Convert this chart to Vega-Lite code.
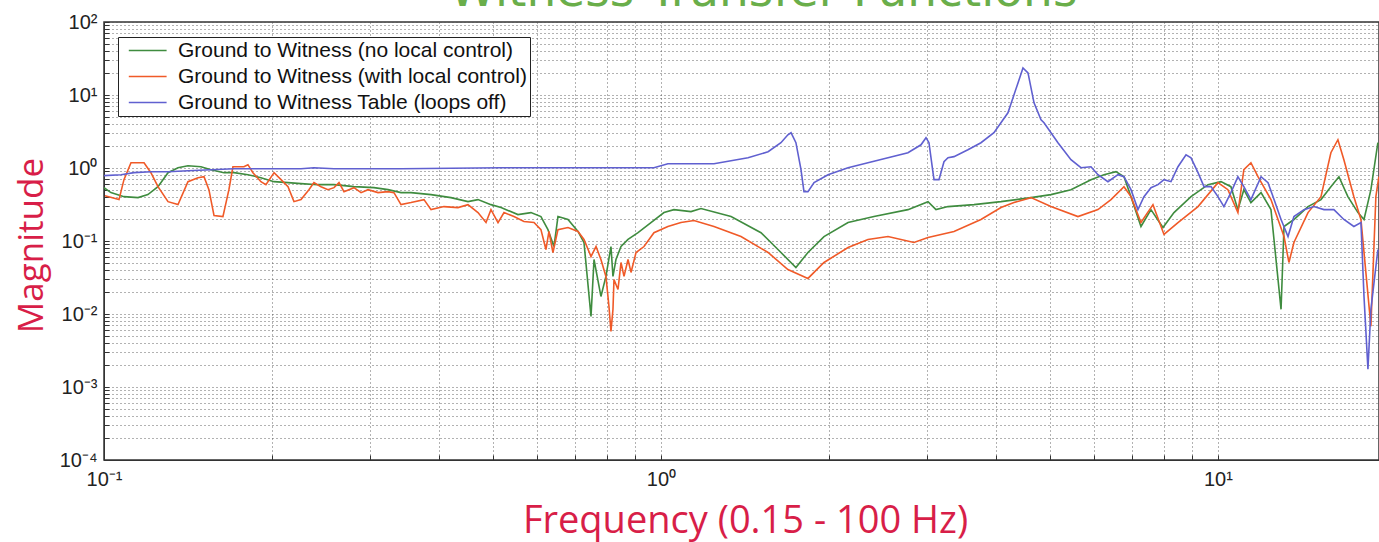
{
  "$schema": "https://vega.github.io/schema/vega-lite/v6.json",
  "width": 1275,
  "height": 438,
  "autosize": {"type": "none"},
  "padding": {"left": 104, "top": 22, "right": 0, "bottom": 82},
  "background": "white",
  "config": {
    "view": {"stroke": "#333", "strokeWidth": 1.5},
    "axis": {
      "labelFont": "Liberation Sans",
      "labelFontSize": 20,
      "labelColor": "#222",
      "domainColor": "#333",
      "tickColor": "#333",
      "gridColor": "#555",
      "gridDash": [1, 3],
      "gridWidth": 1,
      "gridOpacity": 0.9,
      "titleFont": "Open Sans",
      "titleFontSize": 38,
      "titleFontWeight": "normal",
      "titleColor": "#d81e48"
    }
  },
  "datasets": {
    "curves": [
      {"series": "Ground to Witness (no local control)", "f": 0.1000, "m": 0.538},
      {"series": "Ground to Witness (no local control)", "f": 0.1029, "m": 0.460},
      {"series": "Ground to Witness (no local control)", "f": 0.1086, "m": 0.405},
      {"series": "Ground to Witness (no local control)", "f": 0.1151, "m": 0.393},
      {"series": "Ground to Witness (no local control)", "f": 0.1199, "m": 0.432},
      {"series": "Ground to Witness (no local control)", "f": 0.1250, "m": 0.555},
      {"series": "Ground to Witness (no local control)", "f": 0.1303, "m": 0.863},
      {"series": "Ground to Witness (no local control)", "f": 0.1358, "m": 1.01},
      {"series": "Ground to Witness (no local control)", "f": 0.1415, "m": 1.075},
      {"series": "Ground to Witness (no local control)", "f": 0.1493, "m": 1.04},
      {"series": "Ground to Witness (no local control)", "f": 0.1556, "m": 0.948},
      {"series": "Ground to Witness (no local control)", "f": 0.1642, "m": 0.863},
      {"series": "Ground to Witness (no local control)", "f": 0.1712, "m": 0.863},
      {"series": "Ground to Witness (no local control)", "f": 0.1813, "m": 0.810},
      {"series": "Ground to Witness (no local control)", "f": 0.1913, "m": 0.737},
      {"series": "Ground to Witness (no local control)", "f": 0.2020, "m": 0.650},
      {"series": "Ground to Witness (no local control)", "f": 0.2140, "m": 0.630},
      {"series": "Ground to Witness (no local control)", "f": 0.2258, "m": 0.610},
      {"series": "Ground to Witness (no local control)", "f": 0.2422, "m": 0.591},
      {"series": "Ground to Witness (no local control)", "f": 0.2588, "m": 0.591},
      {"series": "Ground to Witness (no local control)", "f": 0.2811, "m": 0.555},
      {"series": "Ground to Witness (no local control)", "f": 0.3053, "m": 0.538},
      {"series": "Ground to Witness (no local control)", "f": 0.3235, "m": 0.505},
      {"series": "Ground to Witness (no local control)", "f": 0.3414, "m": 0.460},
      {"series": "Ground to Witness (no local control)", "f": 0.3558, "m": 0.460},
      {"series": "Ground to Witness (no local control)", "f": 0.3865, "m": 0.432},
      {"series": "Ground to Witness (no local control)", "f": 0.4197, "m": 0.393},
      {"series": "Ground to Witness (no local control)", "f": 0.4503, "m": 0.346},
      {"series": "Ground to Witness (no local control)", "f": 0.4693, "m": 0.369},
      {"series": "Ground to Witness (no local control)", "f": 0.4952, "m": 0.315},
      {"series": "Ground to Witness (no local control)", "f": 0.5162, "m": 0.287},
      {"series": "Ground to Witness (no local control)", "f": 0.5536, "m": 0.230},
      {"series": "Ground to Witness (no local control)", "f": 0.5842, "m": 0.245},
      {"series": "Ground to Witness (no local control)", "f": 0.6088, "m": 0.216},
      {"series": "Ground to Witness (no local control)", "f": 0.6267, "m": 0.143},
      {"series": "Ground to Witness (no local control)", "f": 0.6425, "m": 0.0840},
      {"series": "Ground to Witness (no local control)", "f": 0.6532, "m": 0.216},
      {"series": "Ground to Witness (no local control)", "f": 0.6808, "m": 0.197},
      {"series": "Ground to Witness (no local control)", "f": 0.7096, "m": 0.135},
      {"series": "Ground to Witness (no local control)", "f": 0.7274, "m": 0.0953},
      {"series": "Ground to Witness (no local control)", "f": 0.7488, "m": 0.00929},
      {"series": "Ground to Witness (no local control)", "f": 0.7582, "m": 0.0558},
      {"series": "Ground to Witness (no local control)", "f": 0.7802, "m": 0.0174},
      {"series": "Ground to Witness (no local control)", "f": 0.7965, "m": 0.0327},
      {"series": "Ground to Witness (no local control)", "f": 0.8132, "m": 0.0840},
      {"series": "Ground to Witness (no local control)", "f": 0.8200, "m": 0.0327},
      {"series": "Ground to Witness (no local control)", "f": 0.8302, "m": 0.0558},
      {"series": "Ground to Witness (no local control)", "f": 0.8477, "m": 0.0840},
      {"series": "Ground to Witness (no local control)", "f": 0.8726, "m": 0.105},
      {"series": "Ground to Witness (no local control)", "f": 0.9095, "m": 0.130},
      {"series": "Ground to Witness (no local control)", "f": 0.9594, "m": 0.179},
      {"series": "Ground to Witness (no local control)", "f": 1.0125, "m": 0.245},
      {"series": "Ground to Witness (no local control)", "f": 1.055, "m": 0.269},
      {"series": "Ground to Witness (no local control)", "f": 1.132, "m": 0.253},
      {"series": "Ground to Witness (no local control)", "f": 1.180, "m": 0.278},
      {"series": "Ground to Witness (no local control)", "f": 1.336, "m": 0.216},
      {"series": "Ground to Witness (no local control)", "f": 1.512, "m": 0.130},
      {"series": "Ground to Witness (no local control)", "f": 1.622, "m": 0.0764},
      {"series": "Ground to Witness (no local control)", "f": 1.747, "m": 0.0434},
      {"series": "Ground to Witness (no local control)", "f": 1.836, "m": 0.0696},
      {"series": "Ground to Witness (no local control)", "f": 1.962, "m": 0.115},
      {"series": "Ground to Witness (no local control)", "f": 2.167, "m": 0.179},
      {"series": "Ground to Witness (no local control)", "f": 2.412, "m": 0.216},
      {"series": "Ground to Witness (no local control)", "f": 2.776, "m": 0.269},
      {"series": "Ground to Witness (no local control)", "f": 3.016, "m": 0.346},
      {"series": "Ground to Witness (no local control)", "f": 3.117, "m": 0.269},
      {"series": "Ground to Witness (no local control)", "f": 3.276, "m": 0.296},
      {"series": "Ground to Witness (no local control)", "f": 3.647, "m": 0.315},
      {"series": "Ground to Witness (no local control)", "f": 4.078, "m": 0.346},
      {"series": "Ground to Witness (no local control)", "f": 4.617, "m": 0.393},
      {"series": "Ground to Witness (no local control)", "f": 5.013, "m": 0.432},
      {"series": "Ground to Witness (no local control)", "f": 5.446, "m": 0.505},
      {"series": "Ground to Witness (no local control)", "f": 5.916, "m": 0.692},
      {"series": "Ground to Witness (no local control)", "f": 6.242, "m": 0.810},
      {"series": "Ground to Witness (no local control)", "f": 6.560, "m": 0.890},
      {"series": "Ground to Witness (no local control)", "f": 6.781, "m": 0.760},
      {"series": "Ground to Witness (no local control)", "f": 6.980, "m": 0.405},
      {"series": "Ground to Witness (no local control)", "f": 7.274, "m": 0.158},
      {"series": "Ground to Witness (no local control)", "f": 7.581, "m": 0.269},
      {"series": "Ground to Witness (no local control)", "f": 7.967, "m": 0.153},
      {"series": "Ground to Witness (no local control)", "f": 8.338, "m": 0.245},
      {"series": "Ground to Witness (no local control)", "f": 8.946, "m": 0.405},
      {"series": "Ground to Witness (no local control)", "f": 9.597, "m": 0.591},
      {"series": "Ground to Witness (no local control)", "f": 10.125, "m": 0.650},
      {"series": "Ground to Witness (no local control)", "f": 10.55, "m": 0.555},
      {"series": "Ground to Witness (no local control)", "f": 10.86, "m": 0.269},
      {"series": "Ground to Witness (no local control)", "f": 11.13, "m": 0.505},
      {"series": "Ground to Witness (no local control)", "f": 11.46, "m": 0.336},
      {"series": "Ground to Witness (no local control)", "f": 11.95, "m": 0.460},
      {"series": "Ground to Witness (no local control)", "f": 12.45, "m": 0.269},
      {"series": "Ground to Witness (no local control)", "f": 12.98, "m": 0.0116},
      {"series": "Ground to Witness (no local control)", "f": 13.14, "m": 0.158},
      {"series": "Ground to Witness (no local control)", "f": 13.69, "m": 0.197},
      {"series": "Ground to Witness (no local control)", "f": 14.51, "m": 0.296},
      {"series": "Ground to Witness (no local control)", "f": 15.31, "m": 0.369},
      {"series": "Ground to Witness (no local control)", "f": 15.95, "m": 0.555},
      {"series": "Ground to Witness (no local control)", "f": 16.49, "m": 0.760},
      {"series": "Ground to Witness (no local control)", "f": 17.11, "m": 0.405},
      {"series": "Ground to Witness (no local control)", "f": 17.84, "m": 0.245},
      {"series": "Ground to Witness (no local control)", "f": 18.29, "m": 0.197},
      {"series": "Ground to Witness (no local control)", "f": 18.82, "m": 0.505},
      {"series": "Ground to Witness (no local control)", "f": 19.37, "m": 2.22},

      {"series": "Ground to Witness (with local control)", "f": 0.1004, "m": 0.418},
      {"series": "Ground to Witness (with local control)", "f": 0.1064, "m": 0.369},
      {"series": "Ground to Witness (with local control)", "f": 0.1086, "m": 0.692},
      {"series": "Ground to Witness (with local control)", "f": 0.1118, "m": 1.18},
      {"series": "Ground to Witness (with local control)", "f": 0.1180, "m": 1.18},
      {"series": "Ground to Witness (with local control)", "f": 0.1214, "m": 0.863},
      {"series": "Ground to Witness (with local control)", "f": 0.1250, "m": 0.555},
      {"series": "Ground to Witness (with local control)", "f": 0.1303, "m": 0.346},
      {"series": "Ground to Witness (with local control)", "f": 0.1358, "m": 0.315},
      {"series": "Ground to Witness (with local control)", "f": 0.1415, "m": 0.650},
      {"series": "Ground to Witness (with local control)", "f": 0.1475, "m": 0.737},
      {"series": "Ground to Witness (with local control)", "f": 0.1512, "m": 0.760},
      {"series": "Ground to Witness (with local control)", "f": 0.1543, "m": 0.505},
      {"series": "Ground to Witness (with local control)", "f": 0.1576, "m": 0.223},
      {"series": "Ground to Witness (with local control)", "f": 0.1635, "m": 0.216},
      {"series": "Ground to Witness (with local control)", "f": 0.1676, "m": 0.505},
      {"series": "Ground to Witness (with local control)", "f": 0.1704, "m": 1.04},
      {"series": "Ground to Witness (with local control)", "f": 0.1783, "m": 1.04},
      {"series": "Ground to Witness (with local control)", "f": 0.1813, "m": 1.11},
      {"series": "Ground to Witness (with local control)", "f": 0.1851, "m": 0.863},
      {"series": "Ground to Witness (with local control)", "f": 0.1913, "m": 0.650},
      {"series": "Ground to Witness (with local control)", "f": 0.1953, "m": 0.591},
      {"series": "Ground to Witness (with local control)", "f": 0.2020, "m": 0.863},
      {"series": "Ground to Witness (with local control)", "f": 0.2079, "m": 0.692},
      {"series": "Ground to Witness (with local control)", "f": 0.2140, "m": 0.555},
      {"series": "Ground to Witness (with local control)", "f": 0.2193, "m": 0.346},
      {"series": "Ground to Witness (with local control)", "f": 0.2258, "m": 0.369},
      {"series": "Ground to Witness (with local control)", "f": 0.2333, "m": 0.505},
      {"series": "Ground to Witness (with local control)", "f": 0.2382, "m": 0.630},
      {"series": "Ground to Witness (with local control)", "f": 0.2452, "m": 0.555},
      {"series": "Ground to Witness (with local control)", "f": 0.2524, "m": 0.505},
      {"series": "Ground to Witness (with local control)", "f": 0.2588, "m": 0.538},
      {"series": "Ground to Witness (with local control)", "f": 0.2642, "m": 0.630},
      {"series": "Ground to Witness (with local control)", "f": 0.2697, "m": 0.474},
      {"series": "Ground to Witness (with local control)", "f": 0.2811, "m": 0.538},
      {"series": "Ground to Witness (with local control)", "f": 0.2894, "m": 0.460},
      {"series": "Ground to Witness (with local control)", "f": 0.2979, "m": 0.505},
      {"series": "Ground to Witness (with local control)", "f": 0.3104, "m": 0.460},
      {"series": "Ground to Witness (with local control)", "f": 0.3235, "m": 0.474},
      {"series": "Ground to Witness (with local control)", "f": 0.3316, "m": 0.460},
      {"series": "Ground to Witness (with local control)", "f": 0.3414, "m": 0.315},
      {"series": "Ground to Witness (with local control)", "f": 0.3558, "m": 0.336},
      {"series": "Ground to Witness (with local control)", "f": 0.3754, "m": 0.369},
      {"series": "Ground to Witness (with local control)", "f": 0.3865, "m": 0.269},
      {"series": "Ground to Witness (with local control)", "f": 0.4077, "m": 0.296},
      {"series": "Ground to Witness (with local control)", "f": 0.4320, "m": 0.287},
      {"series": "Ground to Witness (with local control)", "f": 0.4503, "m": 0.315},
      {"series": "Ground to Witness (with local control)", "f": 0.4693, "m": 0.245},
      {"series": "Ground to Witness (with local control)", "f": 0.4851, "m": 0.179},
      {"series": "Ground to Witness (with local control)", "f": 0.4952, "m": 0.269},
      {"series": "Ground to Witness (with local control)", "f": 0.5098, "m": 0.179},
      {"series": "Ground to Witness (with local control)", "f": 0.5226, "m": 0.245},
      {"series": "Ground to Witness (with local control)", "f": 0.5445, "m": 0.216},
      {"series": "Ground to Witness (with local control)", "f": 0.5675, "m": 0.185},
      {"series": "Ground to Witness (with local control)", "f": 0.5916, "m": 0.179},
      {"series": "Ground to Witness (with local control)", "f": 0.6088, "m": 0.143},
      {"series": "Ground to Witness (with local control)", "f": 0.6215, "m": 0.0764},
      {"series": "Ground to Witness (with local control)", "f": 0.6293, "m": 0.135},
      {"series": "Ground to Witness (with local control)", "f": 0.6398, "m": 0.0696},
      {"series": "Ground to Witness (with local control)", "f": 0.6532, "m": 0.143},
      {"series": "Ground to Witness (with local control)", "f": 0.6808, "m": 0.153},
      {"series": "Ground to Witness (with local control)", "f": 0.7096, "m": 0.135},
      {"series": "Ground to Witness (with local control)", "f": 0.7274, "m": 0.105},
      {"series": "Ground to Witness (with local control)", "f": 0.7488, "m": 0.0613},
      {"series": "Ground to Witness (with local control)", "f": 0.7645, "m": 0.0840},
      {"series": "Ground to Witness (with local control)", "f": 0.7802, "m": 0.0558},
      {"series": "Ground to Witness (with local control)", "f": 0.7965, "m": 0.0327},
      {"series": "Ground to Witness (with local control)", "f": 0.8065, "m": 0.0127},
      {"series": "Ground to Witness (with local control)", "f": 0.8132, "m": 0.00579},
      {"series": "Ground to Witness (with local control)", "f": 0.8200, "m": 0.0116},
      {"series": "Ground to Witness (with local control)", "f": 0.8234, "m": 0.0297},
      {"series": "Ground to Witness (with local control)", "f": 0.8372, "m": 0.0217},
      {"series": "Ground to Witness (with local control)", "f": 0.8477, "m": 0.0508},
      {"series": "Ground to Witness (with local control)", "f": 0.8583, "m": 0.0327},
      {"series": "Ground to Witness (with local control)", "f": 0.8726, "m": 0.0558},
      {"series": "Ground to Witness (with local control)", "f": 0.8835, "m": 0.0371},
      {"series": "Ground to Witness (with local control)", "f": 0.9020, "m": 0.0696},
      {"series": "Ground to Witness (with local control)", "f": 0.9322, "m": 0.0840},
      {"series": "Ground to Witness (with local control)", "f": 0.9714, "m": 0.130},
      {"series": "Ground to Witness (with local control)", "f": 1.029, "m": 0.158},
      {"series": "Ground to Witness (with local control)", "f": 1.086, "m": 0.179},
      {"series": "Ground to Witness (with local control)", "f": 1.146, "m": 0.191},
      {"series": "Ground to Witness (with local control)", "f": 1.245, "m": 0.158},
      {"series": "Ground to Witness (with local control)", "f": 1.392, "m": 0.115},
      {"series": "Ground to Witness (with local control)", "f": 1.557, "m": 0.0696},
      {"series": "Ground to Witness (with local control)", "f": 1.690, "m": 0.0407},
      {"series": "Ground to Witness (with local control)", "f": 1.836, "m": 0.0307},
      {"series": "Ground to Witness (with local control)", "f": 1.962, "m": 0.0508},
      {"series": "Ground to Witness (with local control)", "f": 2.167, "m": 0.0814},
      {"series": "Ground to Witness (with local control)", "f": 2.353, "m": 0.105},
      {"series": "Ground to Witness (with local control)", "f": 2.556, "m": 0.115},
      {"series": "Ground to Witness (with local control)", "f": 2.846, "m": 0.0953},
      {"series": "Ground to Witness (with local control)", "f": 3.016, "m": 0.112},
      {"series": "Ground to Witness (with local control)", "f": 3.358, "m": 0.135},
      {"series": "Ground to Witness (with local control)", "f": 3.754, "m": 0.197},
      {"series": "Ground to Witness (with local control)", "f": 4.078, "m": 0.287},
      {"series": "Ground to Witness (with local control)", "f": 4.303, "m": 0.336},
      {"series": "Ground to Witness (with local control)", "f": 4.617, "m": 0.393},
      {"series": "Ground to Witness (with local control)", "f": 5.013, "m": 0.296},
      {"series": "Ground to Witness (with local control)", "f": 5.606, "m": 0.216},
      {"series": "Ground to Witness (with local control)", "f": 6.089, "m": 0.269},
      {"series": "Ground to Witness (with local control)", "f": 6.426, "m": 0.369},
      {"series": "Ground to Witness (with local control)", "f": 6.781, "m": 0.555},
      {"series": "Ground to Witness (with local control)", "f": 6.980, "m": 0.405},
      {"series": "Ground to Witness (with local control)", "f": 7.274, "m": 0.179},
      {"series": "Ground to Witness (with local control)", "f": 7.644, "m": 0.315},
      {"series": "Ground to Witness (with local control)", "f": 8.000, "m": 0.123},
      {"series": "Ground to Witness (with local control)", "f": 8.477, "m": 0.179},
      {"series": "Ground to Witness (with local control)", "f": 9.209, "m": 0.296},
      {"series": "Ground to Witness (with local control)", "f": 10.00, "m": 0.630},
      {"series": "Ground to Witness (with local control)", "f": 10.42, "m": 0.505},
      {"series": "Ground to Witness (with local control)", "f": 10.86, "m": 0.245},
      {"series": "Ground to Witness (with local control)", "f": 11.13, "m": 0.948},
      {"series": "Ground to Witness (with local control)", "f": 11.46, "m": 1.18},
      {"series": "Ground to Witness (with local control)", "f": 11.80, "m": 0.760},
      {"series": "Ground to Witness (with local control)", "f": 12.45, "m": 0.369},
      {"series": "Ground to Witness (with local control)", "f": 13.14, "m": 0.115},
      {"series": "Ground to Witness (with local control)", "f": 13.41, "m": 0.0508},
      {"series": "Ground to Witness (with local control)", "f": 13.69, "m": 0.0953},
      {"series": "Ground to Witness (with local control)", "f": 14.51, "m": 0.245},
      {"series": "Ground to Witness (with local control)", "f": 15.31, "m": 0.405},
      {"series": "Ground to Witness (with local control)", "f": 15.95, "m": 1.62},
      {"series": "Ground to Witness (with local control)", "f": 16.42, "m": 2.44},
      {"series": "Ground to Witness (with local control)", "f": 16.83, "m": 1.30},
      {"series": "Ground to Witness (with local control)", "f": 17.54, "m": 0.405},
      {"series": "Ground to Witness (with local control)", "f": 18.06, "m": 0.197},
      {"series": "Ground to Witness (with local control)", "f": 18.82, "m": 0.00678},
      {"series": "Ground to Witness (with local control)", "f": 19.21, "m": 0.405},
      {"series": "Ground to Witness (with local control)", "f": 19.45, "m": 0.760},

      {"series": "Ground to Witness Table (loops off)", "f": 0.1000, "m": 0.785},
      {"series": "Ground to Witness Table (loops off)", "f": 0.1073, "m": 0.810},
      {"series": "Ground to Witness Table (loops off)", "f": 0.1132, "m": 0.863},
      {"series": "Ground to Witness Table (loops off)", "f": 0.1214, "m": 0.890},
      {"series": "Ground to Witness Table (loops off)", "f": 0.1303, "m": 0.890},
      {"series": "Ground to Witness Table (loops off)", "f": 0.1415, "m": 0.919},
      {"series": "Ground to Witness Table (loops off)", "f": 0.1556, "m": 0.948},
      {"series": "Ground to Witness Table (loops off)", "f": 0.1712, "m": 0.978},
      {"series": "Ground to Witness Table (loops off)", "f": 0.1970, "m": 0.978},
      {"series": "Ground to Witness Table (loops off)", "f": 0.2258, "m": 0.978},
      {"series": "Ground to Witness Table (loops off)", "f": 0.2382, "m": 1.01},
      {"series": "Ground to Witness Table (loops off)", "f": 0.2588, "m": 0.978},
      {"series": "Ground to Witness Table (loops off)", "f": 0.3414, "m": 0.978},
      {"series": "Ground to Witness Table (loops off)", "f": 0.5162, "m": 1.01},
      {"series": "Ground to Witness Table (loops off)", "f": 0.7802, "m": 1.01},
      {"series": "Ground to Witness Table (loops off)", "f": 0.9714, "m": 1.01},
      {"series": "Ground to Witness Table (loops off)", "f": 1.029, "m": 1.145},
      {"series": "Ground to Witness Table (loops off)", "f": 1.086, "m": 1.145},
      {"series": "Ground to Witness Table (loops off)", "f": 1.245, "m": 1.145},
      {"series": "Ground to Witness Table (loops off)", "f": 1.433, "m": 1.38},
      {"series": "Ground to Witness Table (loops off)", "f": 1.557, "m": 1.67},
      {"series": "Ground to Witness Table (loops off)", "f": 1.642, "m": 2.22},
      {"series": "Ground to Witness Table (loops off)", "f": 1.690, "m": 2.85},
      {"series": "Ground to Witness Table (loops off)", "f": 1.712, "m": 3.04},
      {"series": "Ground to Witness Table (loops off)", "f": 1.747, "m": 2.22},
      {"series": "Ground to Witness Table (loops off)", "f": 1.784, "m": 0.948},
      {"series": "Ground to Witness Table (loops off)", "f": 1.806, "m": 0.474},
      {"series": "Ground to Witness Table (loops off)", "f": 1.836, "m": 0.474},
      {"series": "Ground to Witness Table (loops off)", "f": 1.883, "m": 0.630},
      {"series": "Ground to Witness Table (loops off)", "f": 1.995, "m": 0.810},
      {"series": "Ground to Witness Table (loops off)", "f": 2.167, "m": 1.01},
      {"series": "Ground to Witness Table (loops off)", "f": 2.353, "m": 1.18},
      {"series": "Ground to Witness Table (loops off)", "f": 2.556, "m": 1.38},
      {"series": "Ground to Witness Table (loops off)", "f": 2.776, "m": 1.62},
      {"series": "Ground to Witness Table (loops off)", "f": 2.930, "m": 2.08},
      {"series": "Ground to Witness Table (loops off)", "f": 2.991, "m": 2.60},
      {"series": "Ground to Witness Table (loops off)", "f": 3.028, "m": 2.22},
      {"series": "Ground to Witness Table (loops off)", "f": 3.079, "m": 0.863},
      {"series": "Ground to Witness Table (loops off)", "f": 3.092, "m": 0.692},
      {"series": "Ground to Witness Table (loops off)", "f": 3.156, "m": 0.692},
      {"series": "Ground to Witness Table (loops off)", "f": 3.222, "m": 1.22},
      {"series": "Ground to Witness Table (loops off)", "f": 3.276, "m": 1.38},
      {"series": "Ground to Witness Table (loops off)", "f": 3.358, "m": 1.43},
      {"series": "Ground to Witness Table (loops off)", "f": 3.557, "m": 1.78},
      {"series": "Ground to Witness Table (loops off)", "f": 3.754, "m": 2.22},
      {"series": "Ground to Witness Table (loops off)", "f": 3.961, "m": 3.04},
      {"series": "Ground to Witness Table (loops off)", "f": 4.197, "m": 5.70},
      {"series": "Ground to Witness Table (loops off)", "f": 4.375, "m": 14.65},
      {"series": "Ground to Witness Table (loops off)", "f": 4.466, "m": 23.5},
      {"series": "Ground to Witness Table (loops off)", "f": 4.560, "m": 20.1},
      {"series": "Ground to Witness Table (loops off)", "f": 4.675, "m": 7.81},
      {"series": "Ground to Witness Table (loops off)", "f": 4.812, "m": 4.57},
      {"series": "Ground to Witness Table (loops off)", "f": 4.872, "m": 4.16},
      {"series": "Ground to Witness Table (loops off)", "f": 5.161, "m": 2.22},
      {"series": "Ground to Witness Table (loops off)", "f": 5.446, "m": 1.30},
      {"series": "Ground to Witness Table (loops off)", "f": 5.676, "m": 1.01},
      {"series": "Ground to Witness Table (loops off)", "f": 5.916, "m": 1.04},
      {"series": "Ground to Witness Table (loops off)", "f": 6.089, "m": 0.810},
      {"series": "Ground to Witness Table (loops off)", "f": 6.346, "m": 0.650},
      {"series": "Ground to Witness Table (loops off)", "f": 6.614, "m": 0.810},
      {"series": "Ground to Witness Table (loops off)", "f": 6.781, "m": 0.760},
      {"series": "Ground to Witness Table (loops off)", "f": 6.980, "m": 0.505},
      {"series": "Ground to Witness Table (loops off)", "f": 7.184, "m": 0.269},
      {"series": "Ground to Witness Table (loops off)", "f": 7.365, "m": 0.405},
      {"series": "Ground to Witness Table (loops off)", "f": 7.581, "m": 0.538},
      {"series": "Ground to Witness Table (loops off)", "f": 7.804, "m": 0.591},
      {"series": "Ground to Witness Table (loops off)", "f": 8.000, "m": 0.692},
      {"series": "Ground to Witness Table (loops off)", "f": 8.235, "m": 0.650},
      {"series": "Ground to Witness Table (loops off)", "f": 8.477, "m": 1.04},
      {"series": "Ground to Witness Table (loops off)", "f": 8.763, "m": 1.52},
      {"series": "Ground to Witness Table (loops off)", "f": 8.946, "m": 1.38},
      {"series": "Ground to Witness Table (loops off)", "f": 9.209, "m": 0.863},
      {"series": "Ground to Witness Table (loops off)", "f": 9.439, "m": 0.555},
      {"series": "Ground to Witness Table (loops off)", "f": 9.717, "m": 0.555},
      {"series": "Ground to Witness Table (loops off)", "f": 10.00, "m": 0.405},
      {"series": "Ground to Witness Table (loops off)", "f": 10.25, "m": 0.296},
      {"series": "Ground to Witness Table (loops off)", "f": 10.55, "m": 0.460},
      {"series": "Ground to Witness Table (loops off)", "f": 10.86, "m": 0.760},
      {"series": "Ground to Witness Table (loops off)", "f": 11.13, "m": 0.555},
      {"series": "Ground to Witness Table (loops off)", "f": 11.46, "m": 0.369},
      {"series": "Ground to Witness Table (loops off)", "f": 11.95, "m": 0.760},
      {"series": "Ground to Witness Table (loops off)", "f": 12.30, "m": 0.630},
      {"series": "Ground to Witness Table (loops off)", "f": 12.61, "m": 0.369},
      {"series": "Ground to Witness Table (loops off)", "f": 12.98, "m": 0.197},
      {"series": "Ground to Witness Table (loops off)", "f": 13.36, "m": 0.115},
      {"series": "Ground to Witness Table (loops off)", "f": 13.69, "m": 0.216},
      {"series": "Ground to Witness Table (loops off)", "f": 14.27, "m": 0.269},
      {"series": "Ground to Witness Table (loops off)", "f": 14.87, "m": 0.296},
      {"series": "Ground to Witness Table (loops off)", "f": 15.50, "m": 0.269},
      {"series": "Ground to Witness Table (loops off)", "f": 16.15, "m": 0.269},
      {"series": "Ground to Witness Table (loops off)", "f": 16.83, "m": 0.197},
      {"series": "Ground to Witness Table (loops off)", "f": 17.54, "m": 0.158},
      {"series": "Ground to Witness Table (loops off)", "f": 18.06, "m": 0.179},
      {"series": "Ground to Witness Table (loops off)", "f": 18.29, "m": 0.0174},
      {"series": "Ground to Witness Table (loops off)", "f": 18.59, "m": 0.00175},
      {"series": "Ground to Witness Table (loops off)", "f": 18.82, "m": 0.0116},
      {"series": "Ground to Witness Table (loops off)", "f": 19.37, "m": 0.0764}
    ]
  },
  "data": {"name": "curves"},
  "layer": [
    {
      "mark": {"type": "line", "strokeWidth": 1.6, "clip": true, "interpolate": "linear"},
      "encoding": {
        "x": {
          "field": "f",
          "type": "quantitative",
          "scale": {"type": "log", "domain": [0.1, 19.46], "nice": false},
          "axis": {
            "orient": "bottom",
            "title": "Frequency (0.15 - 100 Hz)",
            "titleX": 641,
            "titleY": 72,
            "titleBaseline": "alphabetic",
            "values": [0.1, 0.2, 0.3, 0.4, 0.5, 0.6, 0.7, 0.8, 0.9, 1, 2, 3, 4, 5, 6, 7, 8, 9, 10],
            "labelExpr": "abs(log(datum.value)/LN10 - round(log(datum.value)/LN10)) < 0.001 ? '10' + ['\u207b\u2074','\u207b\u00b3','\u207b\u00b2','\u207b\u00b9','\u2070','\u00b9','\u00b2'][round(log(datum.value)/LN10) + 4] : ''",
            "grid": true,
            "tickSize": -5,
            "labelPadding": 14,
            "labelFlush": false,
            "labelOverlap": false
          }
        },
        "y": {
          "field": "m",
          "type": "quantitative",
          "scale": {"type": "log", "domain": [0.0001, 100], "nice": false},
          "axis": {
            "title": "Magnitude",
            "titleFontSize": 35,
            "titleX": -73,
            "titleY": 223,
            "titleAngle": 270,
            "titleAlign": "center",
            "titleBaseline": "middle",
            "values": [0.0001, 0.0002, 0.0003, 0.0004, 0.0005, 0.0006, 0.0007, 0.0008, 0.0009, 0.001, 0.002, 0.003, 0.004, 0.005, 0.006, 0.007, 0.008, 0.009, 0.01, 0.02, 0.03, 0.04, 0.05, 0.06, 0.07, 0.08, 0.09, 0.1, 0.2, 0.3, 0.4, 0.5, 0.6, 0.7, 0.8, 0.9, 1, 2, 3, 4, 5, 6, 7, 8, 9, 10, 20, 30, 40, 50, 60, 70, 80, 90, 100],
            "labelExpr": "abs(log(datum.value)/LN10 - round(log(datum.value)/LN10)) < 0.001 ? '10' + ['\u207b\u2074','\u207b\u00b3','\u207b\u00b2','\u207b\u00b9','\u2070','\u00b9','\u00b2'][round(log(datum.value)/LN10) + 4] : ''",
            "grid": true,
            "tickSize": -5,
            "labelPadding": 12,
            "labelFlush": false,
            "labelOverlap": false
          }
        },
        "color": {
          "field": "series",
          "type": "nominal",
          "scale": {
            "domain": ["Ground to Witness (no local control)", "Ground to Witness (with local control)", "Ground to Witness Table (loops off)"],
            "range": ["#3f8c3f", "#f05a28", "#6060d0"]
          },
          "legend": {
            "title": null,
            "orient": "none",
            "legendX": 14,
            "legendY": 15,
            "symbolType": "M-0.3,0H3.9",
            "symbolSize": 324,
            "symbolStrokeWidth": 1.6,
            "labelOffset": 36,
            "labelFont": "Liberation Sans",
            "labelFontSize": 21,
            "labelColor": "#111",
            "labelLimit": 600,
            "rowPadding": 4,
            "padding": 3,
            "strokeColor": "#222",
            "fillColor": "white",
            "cornerRadius": 0
          }
        }
      }
    },
    {
      "mark": {"type": "line", "opacity": 0, "clip": true},
      "encoding": {
        "x": {
          "field": "f",
          "type": "quantitative",
          "axis": {
            "orient": "top",
            "title": "- Witness Transfer Functions",
            "titleFont": "DejaVu Sans",
            "titleFontSize": 47,
            "titleColor": "#6aae4a",
            "titleX": 643,
            "titleY": -17,
            "titleBaseline": "alphabetic",
            "titleAlign": "center",
            "labels": false,
            "ticks": false,
            "domain": false,
            "grid": false
          }
        },
        "y": {"field": "m", "type": "quantitative"}
      }
    }
  ],
  "resolve": {"axis": {"x": "independent"}}
}
